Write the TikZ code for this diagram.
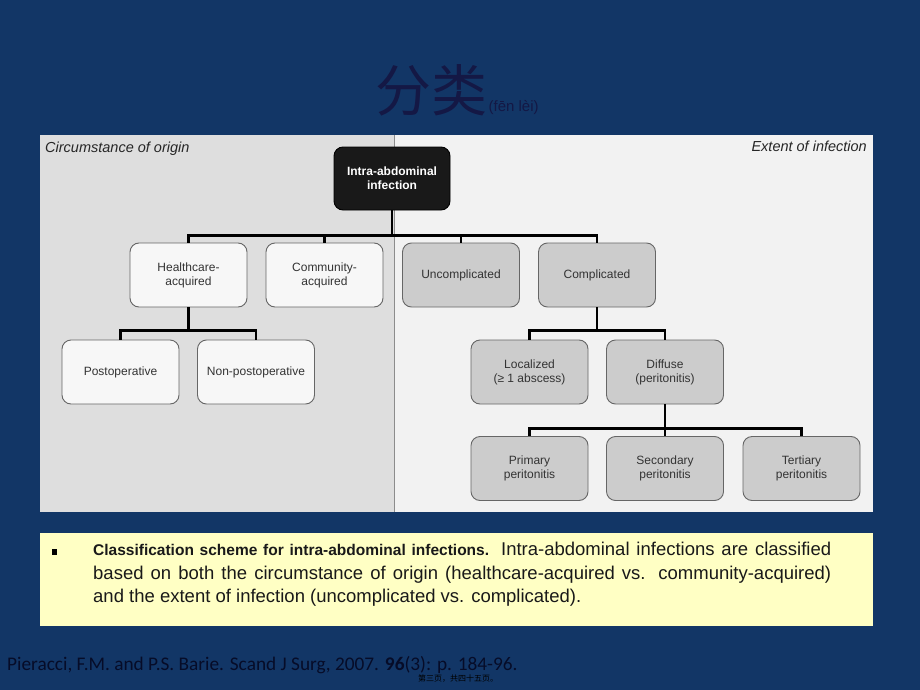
\documentclass[tikz,border=0pt]{standalone}
\usepackage{fontspec}
\setmainfont{Liberation Sans}
\newfontfamily\cjk{Noto Sans CJK SC}
\newfontfamily\citefnt{Carlito}
\definecolor{bg}{HTML}{123666}
\definecolor{ttl}{HTML}{141845}
\definecolor{capy}{HTML}{FFFFC4}
\definecolor{citec}{HTML}{060C28}
\begin{document}
\begin{tikzpicture}[x=1pt,y=-1pt,
  box/.style={draw=black!60, line width=0.9pt, rounded corners=9pt, minimum width=117pt, minimum height=64pt, inner sep=0pt, align=center, font=\fontsize{12}{14}\selectfont, text=black!80},
  wbox/.style={box, fill=white!97!black},
  gbox/.style={box, fill=black!20},
  rootbox/.style={box, fill=black!90, draw=black, text=white, font=\fontsize{12}{14}\selectfont\bfseries},
  conn/.style={draw=black, line width=2.2pt},
  lbl/.style={font=\fontsize{14.5}{16}\selectfont\itshape, text=black!85, inner sep=0pt}]
\fill[bg] (0,0) rectangle (920,690);
\useasboundingbox (0,0) rectangle (920,690);
% title
\node[anchor=south west, inner sep=0pt, text=ttl, font=\cjk\fontsize{56}{56}\selectfont] (title) at (375,116) {分类};
\node[anchor=base west, inner sep=0pt, text=ttl, font=\fontsize{15}{15}\selectfont] (pin) at ([xshift=1pt]title.base east) {(fēn lèi)};
% panel
\fill[black!13] (40,135) rectangle (394,512);
\fill[black!5] (394,135) rectangle (873,512);
\draw[black!45, line width=0.8pt] (394,135) -- (394,512);
\node[lbl, anchor=base west] (lo) at (45,152) {Circumstance of origin};
\node[lbl, anchor=base east] (le) at (867,151) {Extent of infection};
% nodes
\node[rootbox, minimum width=116pt, minimum height=63pt] (root) at (392,178.5) {Intra-abdominal\\infection};
\node[wbox] (hc) at (188.5,275) {Healthcare-\\acquired};
\node[wbox] (ca) at (324.5,275) {Community-\\acquired};
\node[gbox] (un) at (461,275) {Uncomplicated};
\node[gbox] (co) at (597,275) {Complicated};
\node[wbox] (po) at (120.5,372) {Postoperative};
\node[wbox] (np) at (256,372) {Non-postoperative};
\node[gbox] (lz) at (529.5,372) {Localized\\(\char"2265\ 1 abscess)};
\node[gbox] (df) at (665,372) {Diffuse\\(peritonitis)};
\node[gbox] (pp) at (529.5,468.5) {Primary\\peritonitis};
\node[gbox] (sp) at (665,468.5) {Secondary\\peritonitis};
\node[gbox] (tp) at (801.5,468.5) {Tertiary\\peritonitis};
% connectors
\foreach \c in {hc,ca,un,co} \draw[conn] (root.south) -- ++(0,25) -| (\c.north);
\foreach \c in {po,np} \draw[conn] (hc.south) -- ++(0,23) -| (\c.north);
\foreach \c in {lz,df} \draw[conn] (co.south) -- ++(0,23) -| (\c.north);
\foreach \c in {pp,sp,tp} \draw[conn] (df.south) -- ++(0,24) -| (\c.north);
% caption
\fill[capy] (40,533) rectangle (873,626);
\fill[black] (52,549) rectangle (57,555);
\node[anchor=north west, inner sep=0pt, text width=738pt, align=justify, font=\fontsize{18.5}{23.5}\selectfont, text=black!90] (cap) at (93,542)
 {{\fontsize{15.5}{23.5}\selectfont\bfseries Classification scheme for intra-abdominal infections.} Intra-abdominal infections are classified\linebreak based on both the circumstance of origin (healthcare-acquired vs. community-acquired)\linebreak and the extent of infection (uncomplicated vs. complicated).};
% citation
\node[anchor=base west, inner sep=0pt, font=\citefnt\fontsize{19.3}{19.3}\selectfont] (ref) at (7,670) {\color{citec}Pieracci, F.M. and P.S. Barie. Scand J Surg, 2007. \textbf{96}(3): p. 184-96.};
\node[anchor=base west, inner sep=0pt, text=black, font=\cjk\fontsize{8}{8}\selectfont] (pg) at (418,681) {第三页，共四十五页。};
\end{tikzpicture}
\end{document}
